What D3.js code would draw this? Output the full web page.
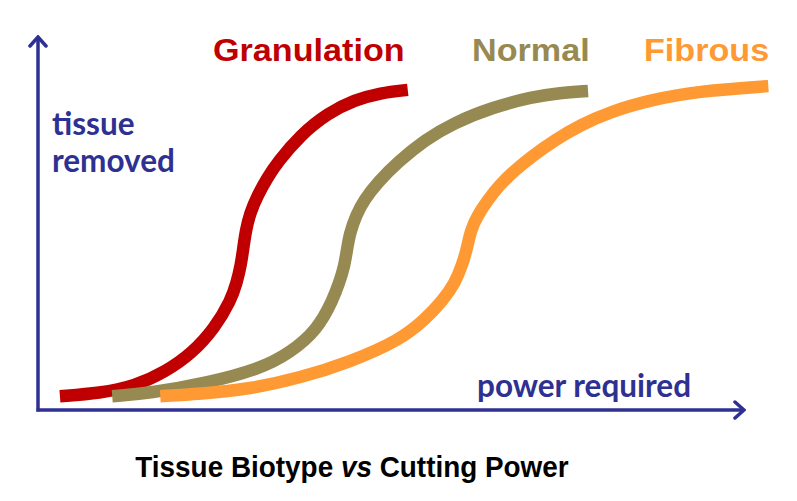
<!DOCTYPE html>
<html><head><meta charset="utf-8">
<script src="https://cdn.jsdelivr.net/npm/d3@7"></script>
<style>html,body{margin:0;padding:0;background:#fff;}svg{display:block;}</style>
</head><body>
<svg id="chart" width="797" height="501"></svg>
<script>
// Data (power required 0-100, tissue removed 0-100)
const series = ["Granulation", "Normal", "Fibrous"];
const granulationX = [3.1, 8.8, 13.7, 18.0, 21.8, 25.0, 27.3, 28.1, 28.7, 29.0, 29.4, 30.0, 31.0, 32.4, 33.9, 37.1, 41.0, 44.8, 48.4, 52.3];
const granulationY = [3.7, 4.5, 6.4, 10.2, 15.2, 21.9, 29.4, 34.0, 38.8, 42.8, 48.1, 52.7, 57.2, 62.0, 66.3, 73.5, 79.4, 82.9, 84.8, 85.6];
const normalX = [10.5, 15.8, 23.9, 31.4, 35.6, 39.5, 41.7, 42.6, 43.3, 43.7, 44.1, 45.0, 46.1, 48.1, 50.9, 54.7, 58.7, 64.4, 69.9, 73.8, 77.8];
const normalY = [3.7, 4.5, 7.2, 11.0, 15.2, 21.4, 29.4, 34.0, 38.2, 42.8, 47.3, 52.1, 56.1, 61.0, 66.3, 72.2, 76.7, 81.0, 83.7, 84.8, 85.3];
const fibrousX = [17.3, 22.9, 30.0, 37.1, 44.1, 51.2, 54.7, 57.3, 59.0, 60.0, 60.7, 61.2, 62.2, 63.6, 65.3, 67.5, 69.9, 73.1, 76.7, 80.9, 86.6, 93.6, 103.3];
const fibrousY = [3.7, 4.3, 5.6, 8.6, 12.8, 18.7, 24.1, 29.4, 34.0, 38.8, 43.3, 48.1, 52.1, 56.1, 60.2, 64.2, 67.9, 72.2, 76.2, 79.7, 82.9, 85.3, 86.6];
const xLabel = "power required";
const yLabel = ["tissue", "removed"];
const title = ["Tissue Biotype ", "vs", " Cutting Power"];

const colors = ["#C00000", "#968A52", "#FF9933"];
const axisColor = "#2E3192";

const svg = d3.select("#chart");
const x = d3.scaleLinear().domain([0, 100]).range([38, 745]);
const y = d3.scaleLinear().domain([0, 100]).range([410, 36]);

// arrow marker
const defs = svg.append("defs");
defs.append("marker").attr("id", "arrow")
  .attr("viewBox", "-12 -10 14 20").attr("refX", 0).attr("refY", 0)
  .attr("markerWidth", 14).attr("markerHeight", 20).attr("markerUnits", "userSpaceOnUse")
  .attr("orient", "auto")
  .append("path").attr("d", "M-9,-8 L0,0 L-9,8")
  .attr("fill", "none").attr("stroke", axisColor).attr("stroke-width", 3.5)
  .attr("stroke-linecap", "round").attr("stroke-linejoin", "miter");

// axes
svg.append("line").attr("x1", x(0)).attr("y1", y(0) + 1.5).attr("x2", x(0)).attr("y2", y(100) + 1)
  .attr("stroke", axisColor).attr("stroke-width", 3.5).attr("marker-end", "url(#arrow)");
svg.append("line").attr("x1", x(0) - 1.5).attr("y1", y(0)).attr("x2", x(100) - 1).attr("y2", y(0))
  .attr("stroke", axisColor).attr("stroke-width", 3.5).attr("marker-end", "url(#arrow)");

// curves
const line = d3.line().x(d => x(d[0])).y(d => y(d[1])).curve(d3.curveBasis);
const data = [
  d3.zip(granulationX, granulationY),
  d3.zip(normalX, normalY),
  d3.zip(fibrousX, fibrousY)
];
[0, 1, 2].forEach(i => {
  svg.append("path").datum(data[i]).attr("d", line)
    .attr("fill", "none").attr("stroke", colors[i]).attr("stroke-width", 12.5)
    .attr("stroke-linecap", "butt");
});

// series labels
const labelX = [213, 472, 644];
series.forEach((s, i) => {
  svg.append("text").attr("transform", `translate(${labelX[i]},61) scale(1.12,1)`)
    .attr("font-family", "'Liberation Sans', Arial, sans-serif").attr("font-weight", "bold")
    .attr("font-size", 30.5).attr("fill", colors[i]).text(s);
});

// axis labels
const lblFont = "Lato, 'Open Sans', sans-serif";
yLabel.forEach((t, i) => {
  svg.append("text").attr("x", 52).attr("y", 135 + i * 37)
    .attr("font-family", lblFont).attr("font-weight", "bold").attr("font-size", 31.5)
    .attr("fill", axisColor).text(t);
});
svg.append("text").attr("x", 477).attr("y", 397)
  .attr("font-family", lblFont).attr("font-weight", "bold").attr("font-size", 31.5)
  .attr("fill", axisColor).text(xLabel);

// title
const tt = svg.append("text").attr("transform", "translate(352,477) scale(0.93,1)").attr("text-anchor", "middle")
  .attr("font-family", "'Liberation Sans', Arial, sans-serif").attr("font-weight", "bold")
  .attr("font-size", 30).attr("fill", "#000");
tt.append("tspan").text(title[0]);
tt.append("tspan").attr("font-style", "italic").text(title[1]);
tt.append("tspan").text(title[2]);
</script>
</body></html>
